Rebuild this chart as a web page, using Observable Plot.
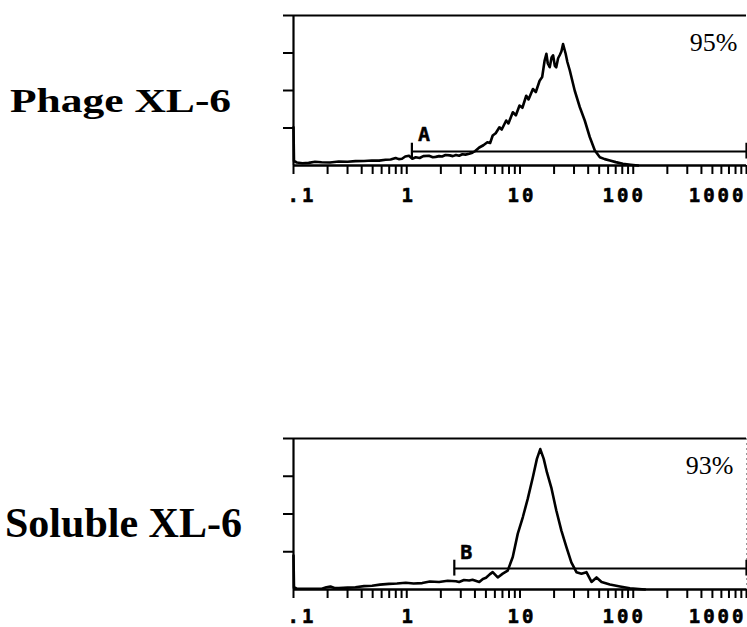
<!DOCTYPE html>
<html><head><meta charset="utf-8">
<script src="https://cdn.jsdelivr.net/npm/d3@7"></script>
<script src="https://cdn.jsdelivr.net/npm/@observablehq/plot@0.6"></script>
<style>
body{margin:0;background:#fff}
#wrap{position:relative;width:747px;height:627px;overflow:hidden;background:#fff}
.lab{position:absolute;font-family:"Liberation Serif","Times New Roman",serif;font-weight:bold;line-height:1;white-space:nowrap;color:#000}
.panel{position:absolute;left:0}
.tl text{letter-spacing:3px}
</style></head><body><div id="wrap"></div>
<script>
// ---- data ----
const panelNames = ["Phage XL-6", "Soluble XL-6"];
const percents = ["95%", "93%"];
const gateNames = ["A", "B"];
const gateStarts = [1.11, 2.63];
const gateLevels = [18.7, 27.8];
const xTicks = [0.1,0.2,0.3,0.4,0.5,0.6,0.7,0.8,0.9,1,2,3,4,5,6,7,8,9,10,20,30,40,50,60,70,80,90,100,200,300,400,500,600,700,800,900,1000];
const xLabelValues = [0.1, 1, 10, 100, 1000];
const xLabels = [".1", "1", "10", "100", "1000"];
const yTicks = [50, 100, 150, 200];

// [fluorescence, count]
const phage = [[0.1,51],[0.101,6],[0.107,4],[0.12,3],[0.136,3.5],[0.155,5],[0.177,4.4],[0.21,4],[0.251,5.3],[0.3,5],[0.352,5.8],[0.42,6],[0.492,6.7],[0.57,6.5],[0.65,7.6],[0.72,8],[0.798,10],[0.85,8.5],[0.908,9],[0.97,12],[1.047,13],[1.12,9],[1.2,11],[1.3,10],[1.4,12.5],[1.57,13],[1.7,11],[1.8,11.5],[1.93,12.5],[2.05,12],[2.2,14],[2.4,13.5],[2.55,12.5],[2.72,14],[2.9,13],[3.1,15],[3.3,14.5],[3.56,15.6],[3.8,17],[4.0,19],[4.37,24],[4.75,27],[5.15,31],[5.45,30],[5.74,40],[6.1,43],[6.58,51],[6.9,48],[7.55,60],[7.9,56],[8.64,71],[9.2,67],[9.9,80],[10.5,77],[11.35,93],[11.9,88],[13.0,102],[13.8,98],[14.9,113],[15.7,118],[16.5,140],[17.1,149],[17.6,136],[18.3,131],[19.0,144],[19.6,147],[20.3,133],[20.9,131],[21.7,143],[22.4,147],[23.2,152],[24.0,162],[25.3,149],[26.2,138],[27.5,127],[30.4,100],[33.7,78],[37.3,60],[41.3,38],[45.8,20],[50.7,11],[56,8.5],[62.2,6.7],[70,4.5],[81,2.2],[95,1],[110,0]];
const soluble = [[0.1,45],[0.101,3],[0.107,1],[0.14,1],[0.178,1],[0.195,3],[0.212,4],[0.23,2],[0.251,2],[0.3,2.5],[0.352,3],[0.42,4.5],[0.494,5],[0.58,6.5],[0.697,7.5],[0.82,8],[0.98,9],[1.15,8],[1.37,8.5],[1.6,10.5],[1.93,10],[2.3,11.5],[2.72,11],[2.9,10],[3.2,12.5],[3.56,12],[3.81,13],[4.37,10],[4.7,14],[5.01,15.5],[5.4,20],[5.74,23],[6.36,16],[7.04,21],[7.79,25],[8.63,43],[9.56,74],[10.6,96],[11.7,120],[13.0,149],[14.1,173],[15.1,186],[16.2,173],[17.3,155],[18.9,135],[20.9,105],[23.2,78],[25.7,56],[28.4,36],[31.5,23],[34.9,21],[38.6,23],[42.8,10],[47.4,16],[52.5,10],[62.2,6.6],[76.3,4],[93.5,1.7],[127,0]];
const seriesList = [phage, soluble];

// ---- drawing ----
const wrap = document.getElementById("wrap");
const labs = xLabelValues.map((v, i) => ({v, t: xLabels[i]}));
const mono = "'DejaVu Sans Mono', monospace";

function panel(i, height, marginBottom, labelDy, pctDx, dotted) {
  const gs = gateStarts[i], gl = gateLevels[i];
  const lbl = (rows, anchor, dx) => Plot.text(rows, {x: "v", text: "t", frameAnchor: "bottom", textAnchor: anchor, lineAnchor: "middle", dx, dy: labelDy, fontSize: 19, fontWeight: "bold", fontFamily: mono, fill: "#000", stroke: "#000", strokeWidth: 0.6, className: "tl"});
  const marks = [
    Plot.axisY({ticks: yTicks, tickSize: 10, tickFormat: () => "", strokeWidth: 2, label: null}),
    Plot.axisX({ticks: xTicks, tickSize: 9, tickFormat: () => "", strokeWidth: 2, label: null}),
    Plot.ruleY([200], {strokeWidth: 2.2}),
    Plot.ruleY([0], {strokeWidth: 2.5}),
    Plot.ruleX([0.1], {strokeWidth: 2.2}),
    lbl(labs.slice(0, 1), "start", -6),
    lbl(labs.slice(1, 3), "middle", 2),
    lbl(labs.slice(3, 4), "middle", -9),
    lbl(labs.slice(4), "end", 0),
    Plot.ruleY([gl], {x1: gs, x2: 1000, strokeWidth: 2}),
    Plot.ruleX([gs, 1000], {y1: gl - 10, y2: gl + 11, strokeWidth: 2.2}),
    Plot.text([gateNames[i]], {x: gs, y: gl, text: d => d, textAnchor: "start", lineAnchor: "bottom", dx: 6, dy: -10, fontSize: 20, fontWeight: "bold", fontFamily: mono, fill: "#000", stroke: "#000", strokeWidth: 0.5}),
    Plot.line(seriesList[i], {x: d => d[0], y: d => d[1], stroke: "#000", strokeWidth: 2.6, strokeLinejoin: "round"}),
    Plot.text([percents[i]], {text: d => d, frameAnchor: "top-right", textAnchor: "end", lineAnchor: "bottom", dx: pctDx, dy: 35, fontSize: 26, fontFamily: "'Liberation Serif', serif", fill: "#000"})
  ];
  if (dotted) marks.unshift(Plot.ruleX([1000], {stroke: "#999", strokeWidth: 1, strokeDasharray: "2,3"}));
  return Plot.plot({
    width: 747, height, marginTop: 15, marginBottom, marginLeft: 293, marginRight: 1,
    style: {background: "transparent", overflow: "visible", fontFamily: mono, color: "#000"},
    x: {type: "log", domain: [0.1, 1000]},
    y: {domain: [0, 200]},
    marks
  });
}

const p1 = panel(0, 210, 45, 30, -9, false);
p1.classList.add("panel"); p1.style.top = "0px";
const p2 = panel(1, 204, 38, 27, -13, true);
p2.classList.add("panel"); p2.style.top = "423px";
wrap.append(p1, p2);

function addLabel(text, left, baseline, size, sy) {
  const d = document.createElement("div");
  d.className = "lab";
  d.textContent = text;
  const b = 0.8375 * size;
  d.style.left = left + "px";
  d.style.top = (baseline - b) + "px";
  d.style.fontSize = size + "px";
  d.style.transformOrigin = `0 ${b}px`;
  d.style.transform = `scaleY(${sy})`;
  wrap.append(d);
}
addLabel(panelNames[0], 10, 112, 43.5, 0.77);
addLabel(panelNames[1], 5, 537, 42, 1);
</script></body></html>
